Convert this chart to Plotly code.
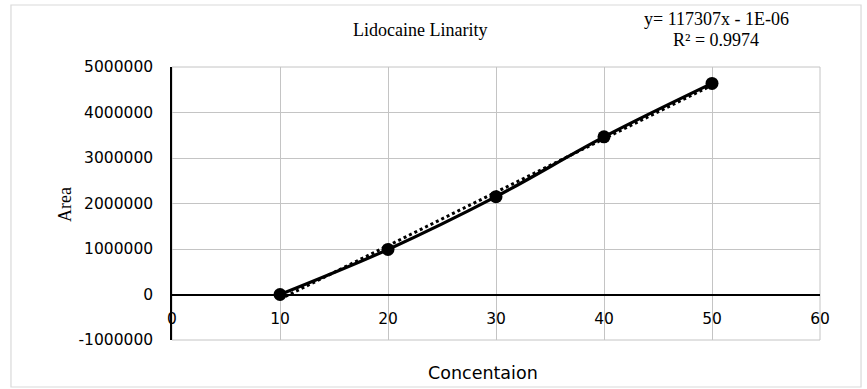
import numpy as np
import plotly.graph_objects as go

# Data
concentration = [10, 20, 30, 40, 50]
area = [0, 990000, 2150000, 3465000, 4640000]
x_ticks = [0, 10, 20, 30, 40, 50, 60]
y_ticks = [-1000000, 0, 1000000, 2000000, 3000000, 4000000, 5000000]
chart_title = "Lidocaine Linarity"
equation_text = "y= 117307x - 1E-06"
r2_text = "R² = 0.9974"
x_title = "Concentaion"
y_title = "Area"

# Linear trendline from data
slope, intercept = np.polyfit(concentration, area, 1)
trend_x = [concentration[0], concentration[-1]]
trend_y = [slope * v + intercept for v in trend_x]

fig = go.Figure()
fig.add_trace(go.Scatter(
    x=concentration, y=area, mode="lines+markers",
    line=dict(color="black", width=3.2, shape="spline"),
    marker=dict(color="black", size=13),
    showlegend=False, hoverinfo="x+y"))
fig.add_trace(go.Scatter(
    x=trend_x, y=trend_y, mode="lines",
    line=dict(color="black", width=3, dash="dot"),
    showlegend=False, hoverinfo="skip"))

grid = "#c4c4c4"
tick_font = dict(family="DejaVu Sans", size=15.5, color="black")

fig.update_layout(
    width=867, height=389,
    margin=dict(l=172, r=47, t=67, b=49),
    paper_bgcolor="white", plot_bgcolor="white",
    xaxis=dict(range=[0, 60], tickvals=x_ticks, ticktext=[str(v) for v in x_ticks],
               showgrid=True, gridcolor=grid, gridwidth=1,
               zeroline=False, showline=True, linecolor="black", linewidth=1.5,
               anchor="free", position=1/6,
               ticks="outside", ticklen=10, tickcolor="rgba(0,0,0,0)",
               tickfont=tick_font, mirror=False),
    yaxis=dict(range=[-1000000, 5000000], tickvals=y_ticks,
               ticktext=[str(v) for v in y_ticks],
               showgrid=True, gridcolor=grid, gridwidth=1,
               zeroline=False, showline=True, linecolor="black", linewidth=1.5,
               ticks="outside", ticklen=14, tickcolor="rgba(0,0,0,0)",
               tickfont=tick_font),
    shapes=[
        dict(type="rect", xref="paper", yref="paper", x0=0, x1=1, y0=0, y1=1,
             line=dict(color=grid, width=1), layer="below"),
        dict(type="rect", xref="paper", yref="paper",
             x0=-0.2485, x1=1.0633, y0=-0.1722, y1=1.2271,
             line=dict(color="#d9d9d9", width=1.2), layer="below"),
    ],
    annotations=[
        dict(text=chart_title, x=0.3827, y=1.1355, xref="paper", yref="paper",
             showarrow=False, xanchor="center", yanchor="middle",
             font=dict(family="Liberation Serif", size=18, color="black")),
        dict(text=equation_text, x=0.8410, y=1.176, xref="paper", yref="paper",
             showarrow=False, xanchor="center", yanchor="middle",
             font=dict(family="Liberation Serif", size=18, color="black")),
        dict(text=r2_text, x=0.8395, y=1.100, xref="paper", yref="paper",
             showarrow=False, xanchor="center", yanchor="middle",
             font=dict(family="Liberation Serif", size=18, color="black")),
        dict(text=x_title, x=0.480, y=-0.1209, xref="paper", yref="paper",
             showarrow=False, xanchor="center", yanchor="middle",
             font=dict(family="DejaVu Sans", size=17.5, color="black")),
        dict(text=y_title, x=-0.1651, y=0.4945, xref="paper", yref="paper",
             showarrow=False, xanchor="center", yanchor="middle", textangle=-90,
             font=dict(family="Liberation Serif", size=18, color="black")),
    ],
)

fig.write_html("out.html", config={"displayModeBar": False},
               post_script="document.body.style.margin='0';")
